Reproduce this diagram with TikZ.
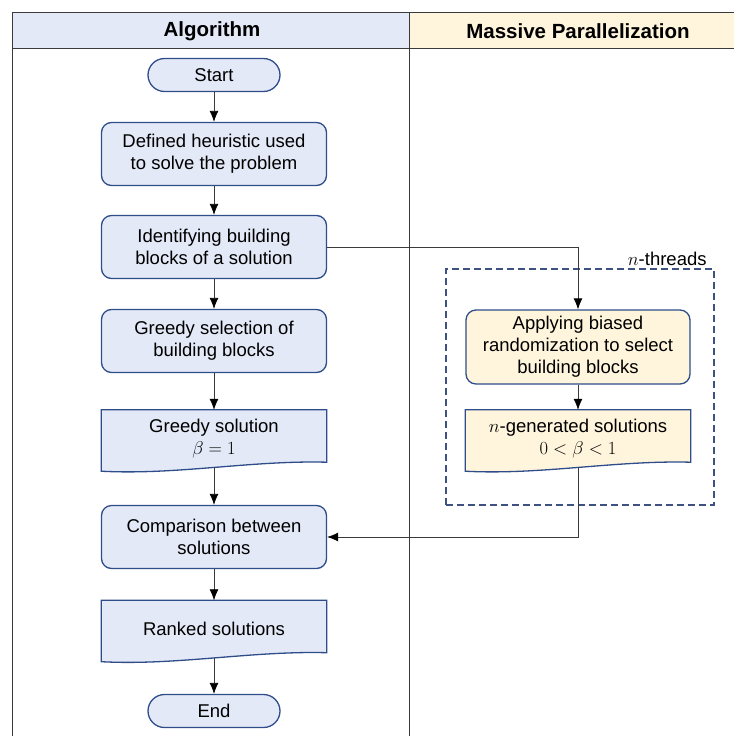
\RequirePackage{fix-cm}
\documentclass[tikz,border=0pt]{standalone}
\usepackage{amsmath, amssymb}
\usepackage{fontspec}
\setmainfont{Liberation Sans}
\usepackage{tikz}
\usetikzlibrary{arrows.meta, calc, backgrounds}

\definecolor{algofill}{HTML}{E3E9F6}
\definecolor{parfill}{HTML}{FFF5DD}
\definecolor{boxline}{HTML}{2F4D8A}
\definecolor{dashline}{HTML}{3E5282}
\definecolor{gridline}{HTML}{3A3A3A}

% wavy-bottom document box drawn round a node
\newcommand{\docshape}[2]{%
  \filldraw[draw=boxline, line width=1.3pt, fill=#2]
    ($(#1.south west)+(0,4)$) -- (#1.north west) -- (#1.north east)
    -- ($(#1.south east)+(0,-5)$)
    .. controls ($(#1.south west)+(150,-7)$) and ($(#1.south west)+(75,8)$) .. cycle;}

\begin{document}
\begin{tikzpicture}[x=1pt, y=-1pt,
    every node/.style={font=\fontsize{18.5}{22}\selectfont, align=center},
    process/.style={rectangle, rounded corners=10pt, draw=boxline, line width=1.3pt,
        minimum width=225pt, minimum height=63pt, inner sep=2pt},
    terminal/.style={rectangle, rounded corners=16.5pt, draw=boxline, line width=1.3pt,
        fill=algofill, minimum width=132pt, minimum height=33pt, inner sep=0pt},
    document/.style={rectangle, minimum width=225pt, minimum height=57pt, inner sep=2pt},
    threadbox/.style={rectangle, draw=dashline, line width=1.6pt, dash pattern=on 7pt off 4pt,
        minimum width=268pt, minimum height=236pt},
    header/.style={font=\fontsize{20.5}{24}\bfseries},
    arr/.style={draw=gridline, line width=0.8pt, -{Latex[length=11pt, width=9pt, color=black]}}]

    \useasboundingbox (0,0) rectangle (734,736);

    % Swimlane header
    \fill[algofill] (12,12) rectangle (409,48);
    \fill[parfill] (409,12) rectangle (734,48);
    \draw[gridline, line width=0.9pt] (734,12) -- (12,12) -- (12,740);
    \draw[gridline, line width=0.9pt] (12,48) -- (734,48);
    \draw[gridline, line width=0.9pt] (409,12) -- (409,740);
    \node[header] (hAlgo) at (212,31) {Algorithm};
    \node[header] (hPar) at (578,31) {Massive Parallelization};

    % Nodes
    \node[terminal] (start) at (214,75) {Start};
    \node[process, fill=algofill] (heur) at (214,154) {Defined heuristic used\\to solve the problem};
    \node[process, fill=algofill] (ident) at (214,247) {Identifying building\\blocks of a solution};
    \node[process, fill=algofill] (gsel) at (214,341) {Greedy selection of\\building blocks};
    \node[document] (gsol) at (214,438.5) {Greedy solution\\$\beta = 1$};
    \node[process, fill=algofill] (comp) at (214,537) {Comparison between\\solutions};
    \node[document] (ranked) at (214,629) {Ranked solutions};
    \node[terminal] (end) at (214,711) {End};

    \node[threadbox] (threads) at (580,387) {};
    \node[anchor=south east, inner sep=2pt] (thlabel) at ($(threads.north east)+(-6,0)$) {$n$-threads};
    \node[process, fill=parfill, minimum width=224pt, minimum height=74pt] (apply) at (578,347)
        {Applying biased\\randomization to select\\building blocks};
    \node[document] (ngen) at (578,438.5) {$n$-generated solutions\\$0 < \beta < 1$};

    % Document shapes behind their text
    \begin{scope}[on background layer]
        \docshape{gsol}{algofill}
        \docshape{ranked}{algofill}
        \docshape{ngen}{parfill}
    \end{scope}

    % Arrows
    \draw[arr] (start) -- (heur);
    \draw[arr] (heur) -- (ident);
    \draw[arr] (ident) -- (gsel);
    \draw[arr] (gsel) -- (gsol);
    \draw[arr] (gsol.south) -- (comp);
    \draw[arr] (comp) -- (ranked);
    \draw[arr] (ranked.south) -- (end);
    \draw[arr] (ident.east) -| (apply.north);
    \draw[arr] (apply) -- (ngen);
    \draw[arr] (ngen.south) |- (comp.east);
\end{tikzpicture}
\end{document}
